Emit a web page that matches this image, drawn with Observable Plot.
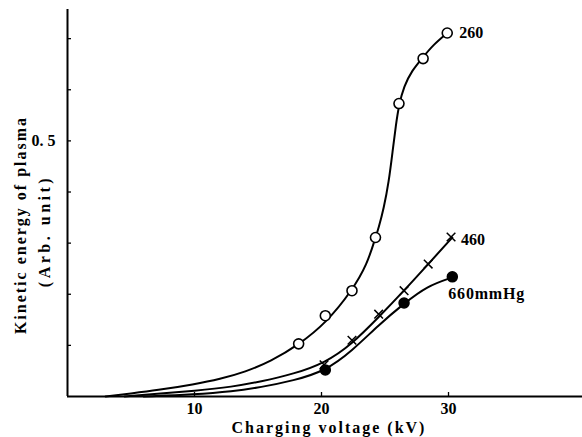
<!DOCTYPE html>
<html><head><meta charset="utf-8">
<script src="https://cdn.jsdelivr.net/npm/d3@7"></script>
<script src="https://cdn.jsdelivr.net/npm/@observablehq/plot@0.6"></script>
<style>
body{margin:0;background:#fff}
svg{font-family:"Liberation Serif","DejaVu Serif",serif;}
</style>
</head><body><div id="chart"></div>
<script>
// Measured points (kV, arbitrary units)
const p260X = [18.2, 20.3, 22.4, 24.25, 26.1, 28.0, 29.9];
const p260Y = [0.103, 0.158, 0.207, 0.311, 0.573, 0.661, 0.711];
const p460X = [20.2, 22.4, 24.5, 26.5, 28.4, 30.2];
const p460Y = [0.062, 0.110, 0.161, 0.207, 0.259, 0.312];
const p660X = [20.3, 26.5, 30.3];
const p660Y = [0.052, 0.183, 0.234];

// Smooth curves as drawn
const c260X = [3.0, 5.0, 7.0, 10.0, 12.0, 14.0, 16.0, 18.2, 20.4, 22.4, 23.6, 24.25, 24.5, 24.9, 25.3, 25.6, 25.85, 26.1, 26.5, 27.1, 28.0, 28.8, 29.9];
const c260Y = [0.0, 0.006, 0.012, 0.024, 0.034, 0.048, 0.069, 0.101, 0.145, 0.207, 0.259, 0.311, 0.330, 0.368, 0.420, 0.480, 0.530, 0.571, 0.607, 0.637, 0.664, 0.688, 0.711];
const c460X = [4.5, 7.0, 10.0, 13.0, 15.2, 17.8, 20.3, 22.4, 24.5, 26.5, 28.4, 30.3];
const c460Y = [0.0, 0.005, 0.011, 0.019, 0.029, 0.044, 0.066, 0.1025, 0.155, 0.207, 0.259, 0.311];
const c660X = [6.0, 10.0, 13.0, 15.2, 17.8, 20.3, 22.4, 24.5, 26.5, 28.3, 30.3];
const c660Y = [0.0, 0.004, 0.010, 0.018, 0.031, 0.050, 0.089, 0.140, 0.182, 0.216, 0.233];

const seriesLabels = ["260", "460", "660mmHg"];
const xTicks = [10, 20, 30];
const yTicks = [0.1, 0.2, 0.3, 0.4, 0.5, 0.6, 0.7];
const yLabelTicks = [0.5];
const yTickLabel = "0. 5";
const xTitle = "Charging voltage (kV)";
const yTitle1 = "Kinetic energy of plasma";
const yTitle2 = "(Arb. unit)";

const zip = (xs, ys) => xs.map((x, i) => ({x, y: ys[i]}));
const curves = [
  ...zip(c260X, c260Y).map(d => ({...d, s: "260"})),
  ...zip(c460X, c460Y).map(d => ({...d, s: "460"})),
  ...zip(c660X, c660Y).map(d => ({...d, s: "660"}))
];
const pts260 = zip(p260X, p260Y);
const pts460 = zip(p460X, p460Y);
const pts660 = zip(p660X, p660Y);
const last = a => [a[a.length - 1]];

const font = {fontFamily: "Liberation Serif", fontWeight: "bold"};

const chart = Plot.plot({
  width: 582,
  height: 437,
  marginLeft: 67,
  marginRight: 0,
  marginTop: 9,
  marginBottom: 41,
  style: {background: "#fff", color: "#000", fontFamily: "Liberation Serif"},
  x: {domain: [0, 40.55]},
  y: {domain: [0, 0.757]},
  marks: [
    // inward tick marks
    Plot.axisY({ticks: yTicks, tickSize: 4, dx: 4, tickFormat: () => "", label: null, strokeWidth: 1.3}),
    Plot.axisX({ticks: xTicks, tickSize: 4, dy: -4, tickFormat: () => "", label: null, strokeWidth: 1.3}),
    // tick labels
    Plot.axisY({ticks: yLabelTicks, tickSize: 0, tickPadding: 12, tickFormat: () => yTickLabel, label: null, fontSize: 16, fontWeight: "bold"}),
    Plot.axisX({ticks: xTicks, tickSize: 0, tickPadding: 6, tickFormat: d => String(d), label: null, fontSize: 16, fontWeight: "bold"}),
    Plot.ruleX([0], {stroke: "#000", strokeWidth: 2}),
    Plot.ruleY([0], {stroke: "#000", strokeWidth: 2}),
    Plot.line(curves, {x: "x", y: "y", z: "s", curve: "basis", stroke: "#000", strokeWidth: 2}),
    Plot.dot(pts260, {x: "x", y: "y", r: 5, stroke: "#000", strokeWidth: 1.6, fill: "#fff"}),
    Plot.dot(pts460, {x: "x", y: "y", r: 4, symbol: "times", stroke: "#000", strokeWidth: 1.5}),
    Plot.dot(pts660, {x: "x", y: "y", r: 5, fill: "#000", stroke: "#000"}),
    Plot.text(last(pts260), {x: "x", y: "y", text: () => seriesLabels[0], dx: 12, dy: 0, textAnchor: "start", lineAnchor: "middle", fontSize: 16, ...font}),
    Plot.text(last(pts460), {x: "x", y: "y", text: () => seriesLabels[1], dx: 10, dy: 3, textAnchor: "start", lineAnchor: "middle", fontSize: 16, ...font}),
    Plot.text(last(pts660), {x: "x", y: "y", text: () => seriesLabels[2], dx: -4, dy: 17, textAnchor: "start", lineAnchor: "middle", fontSize: 16, ...font}),
    Plot.text([xTitle], {frameAnchor: "bottom", dx: 4, dy: 31, textAnchor: "middle", lineAnchor: "middle", fontSize: 16, ...font}),
    Plot.text([yTitle1], {frameAnchor: "left", rotate: -90, dx: -47, dy: 22, textAnchor: "middle", lineAnchor: "middle", fontSize: 16, ...font}),
    Plot.text([yTitle2], {frameAnchor: "left", rotate: -90, dx: -23, dy: 28, textAnchor: "middle", lineAnchor: "middle", fontSize: 16, ...font})
  ]
});
document.getElementById("chart").appendChild(chart);
// letter spacing (style only)
chart.querySelectorAll("text").forEach(t => {
  const s = t.textContent;
  if (s === yTitle1 || s === xTitle) t.style.letterSpacing = "2px";
  if (s === yTitle2) t.style.letterSpacing = "3.5px";
  if (s === seriesLabels[2]) t.style.letterSpacing = "0.8px";
});
</script>
</body></html>
